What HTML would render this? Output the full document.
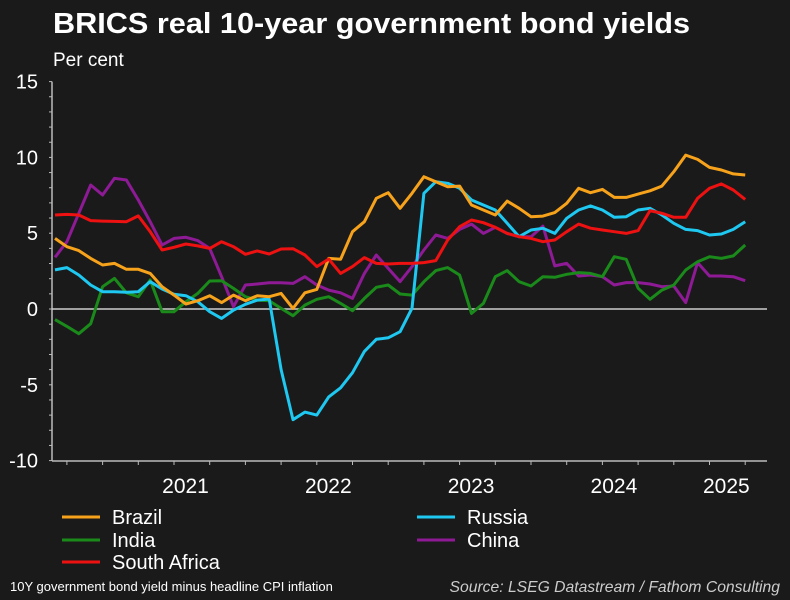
<!DOCTYPE html>
<html><head><meta charset="utf-8"><style>
body{margin:0;background:#1a1a1a;}
svg{display:block;font-family:"Liberation Sans",sans-serif;}
</style></head><body>
<svg width="790" height="600">
<rect width="790" height="600" fill="#1a1a1a"/>
<text x="53" y="33" fill="#fff" font-size="29" font-weight="bold" textLength="637" lengthAdjust="spacingAndGlyphs">BRICS real 10-year government bond yields</text>
<text x="53" y="66" fill="#fff" font-size="19">Per cent</text>
<g id="axes"></g>
<g id="series"></g>
<g id="legend"></g>
<text x="10" y="591" fill="#fff" font-size="13">10Y government bond yield minus headline CPI inflation</text>
<text x="780" y="592" fill="#ccc" font-size="15.7" font-style="italic" text-anchor="end">Source: LSEG Datastream / Fathom Consulting</text>
</svg>
<script>
const yTicks=[15,10,5,0,-5,-10];
const years=["2021","2022","2023","2024","2025"];
const seriesNames=["Brazil","Russia","India","China","South Africa"];
const brazil=[4.66,4.11,3.85,3.34,2.9,3.01,2.62,2.62,2.35,1.47,0.92,0.33,0.55,0.88,0.42,0.92,0.55,0.88,0.81,1.03,0.04,1.07,1.29,3.34,3.28,5.1,5.76,7.3,7.67,6.64,7.63,8.73,8.4,8.07,8.11,6.86,6.53,6.2,7.12,6.64,6.09,6.13,6.36,6.97,7.96,7.67,7.89,7.36,7.36,7.58,7.8,8.11,9.06,10.15,9.87,9.34,9.17,8.91,8.84];
const russia=[2.58,2.73,2.24,1.58,1.14,1.14,1.1,1.14,1.8,1.32,0.97,0.88,0.48,-0.18,-0.62,-0.07,0.31,0.59,0.66,-4.0,-7.3,-6.8,-7.0,-5.8,-5.2,-4.2,-2.8,-2.0,-1.9,-1.5,0.05,7.63,8.4,8.29,7.96,7.19,6.86,6.53,5.65,4.77,5.21,5.32,4.99,5.98,6.53,6.8,6.53,6.05,6.09,6.53,6.64,6.2,5.65,5.25,5.17,4.88,4.95,5.25,5.76];
const india=[-0.7,-1.15,-1.63,-0.97,1.47,2.02,1.07,0.81,1.91,-0.18,-0.18,0.48,1.03,1.85,1.87,1.36,0.81,0.59,0.55,0.04,-0.44,0.26,0.64,0.81,0.37,-0.11,0.7,1.43,1.58,0.99,0.92,1.8,2.53,2.73,2.24,-0.29,0.37,2.13,2.53,1.8,1.52,2.13,2.09,2.29,2.4,2.35,2.13,3.45,3.28,1.37,0.64,1.25,1.58,2.57,3.12,3.45,3.34,3.5,4.22];
const china=[3.41,4.44,6.31,8.18,7.52,8.62,8.51,7.19,5.76,4.22,4.66,4.73,4.51,4.0,2.13,0.15,1.58,1.65,1.73,1.73,1.69,2.13,1.58,1.25,1.07,0.7,2.35,3.56,2.68,1.81,2.79,3.89,4.88,4.66,5.25,5.6,4.99,5.39,4.99,4.77,4.77,5.47,2.84,3.01,2.18,2.24,2.13,1.58,1.74,1.74,1.65,1.47,1.52,0.42,3.06,2.18,2.18,2.13,1.87];
const southAfrica=[6.2,6.24,6.2,5.83,5.8,5.78,5.76,6.14,5.1,3.89,4.07,4.29,4.16,4.0,4.44,4.11,3.61,3.83,3.63,3.96,3.98,3.56,2.8,3.3,2.35,2.8,3.39,3.01,2.97,3.01,3.01,3.06,3.19,4.55,5.43,5.87,5.69,5.39,4.99,4.77,4.66,4.44,4.55,5.1,5.6,5.33,5.21,5.1,4.99,5.17,6.49,6.31,6.05,6.05,7.3,7.96,8.25,7.85,7.23];
const NS="http://www.w3.org/2000/svg";
const X0=52,X1=767,Y0=461;
const ym=v=>309-v*15.16;
const xm=i=>55+i*11.9;
function mk(tag,attrs,parent){const e=document.createElementNS(NS,tag);for(const k in attrs)e.setAttribute(k,attrs[k]);parent.appendChild(e);return e;}
const ax=document.getElementById('axes');
let e=mk('line',{x1:X0,y1:ym(15),x2:X0,y2:Y0,stroke:'#bbb','stroke-width':1.5},ax);


e=mk('line',{x1:X0,y1:Y0,x2:X1,y2:Y0,stroke:'#bbb','stroke-width':1.5},ax);


e=mk('line',{x1:X0,y1:ym(0),x2:X1,y2:ym(0),stroke:'#ccc','stroke-width':1.5},ax);


for(let v=-10;v<=15;v++){const t=mk('line',{x1:X0-3,y1:ym(v),x2:X0,y2:ym(v),stroke:'#bbb'},ax);

}
yTicks.forEach(v=>{const t=mk('text',{x:38,y:ym(v)+7,fill:'#fff','font-size':20,'text-anchor':'end'},ax);t.textContent=v;

});
for(let m=1;m<=60;m+=3){const x=xm(m);if(x>X1)break;const major=(m-5)%12===0;const t=mk('line',{x1:x,y1:Y0,x2:x,y2:Y0+(major?6:4),stroke:'#bbb'},ax);

}
years.forEach((y,k)=>{const s=xm(5+12*k);const c=k<4?s+71:(s+X1)/2;const t=mk('text',{x:c,y:493,fill:'#fff','font-size':21,'text-anchor':'middle'},ax);t.textContent=y;

});
const data=[brazil,russia,india,china,southAfrica];
const colors=["#f7a21b","#1ec8f0","#1a8a1a","#8e1a96","#ee1111"];
const sg=document.getElementById('series');
[3,2,1,0,4].forEach(k=>{const pts=data[k].map((v,i)=>xm(i).toFixed(1)+','+ym(v).toFixed(1)).join(' ');
const p=mk('polyline',{points:pts,fill:'none',stroke:colors[k],'stroke-width':3,'stroke-linejoin':'round'},sg);

});
const lg=document.getElementById('legend');
const pos=[[62,517],[417,517],[62,540],[417,540],[62,562]];
seriesNames.forEach((n,k)=>{const [x,y]=pos[k];const g=mk('g',{},lg);


mk('line',{x1:x,y1:y,x2:x+38,y2:y,stroke:colors[k],'stroke-width':3},g);
const t=mk('text',{x:x+50,y:y+7,fill:'#fff','font-size':20},g);t.textContent=n;});
</script>
</body></html>
